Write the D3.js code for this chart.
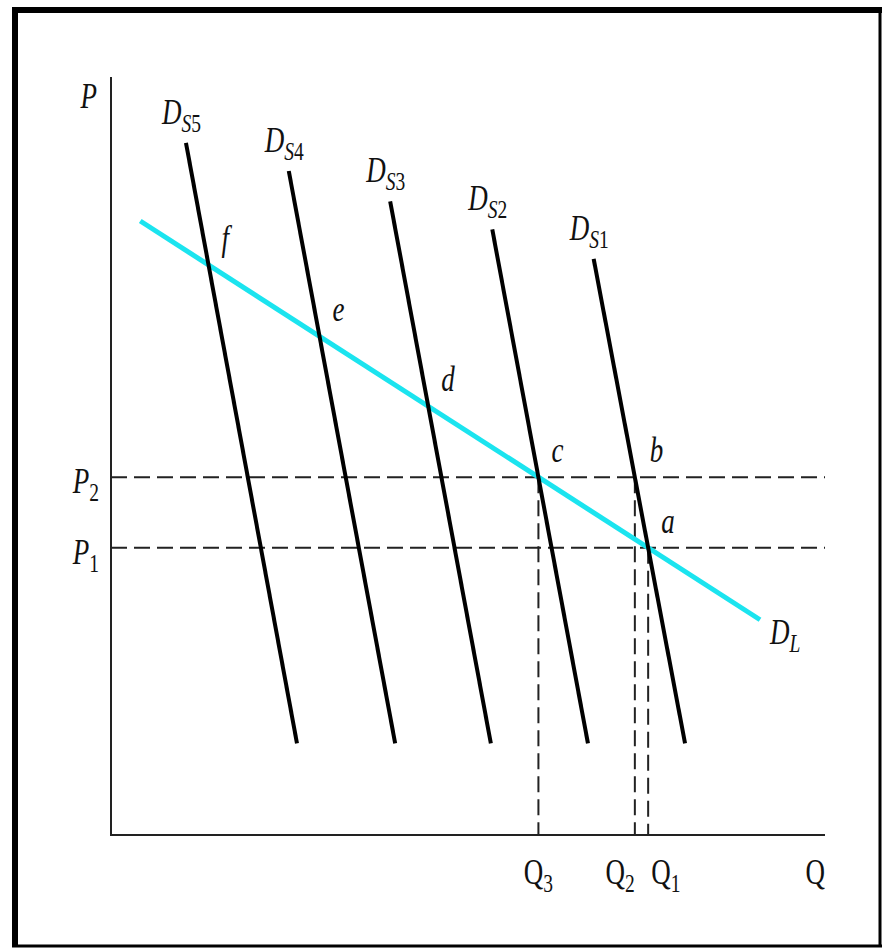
<!DOCTYPE html>
<html>
<head>
<meta charset="utf-8">
<script src="https://cdn.jsdelivr.net/npm/d3@7/dist/d3.min.js"></script>
<style>
  html, body { margin: 0; padding: 0; background: #fff; }
  svg { display: block; }
  text { font-family: "Liberation Serif", "Times New Roman", "DejaVu Serif", serif; fill: #111; }
</style>
</head>
<body>
<svg id="chart" width="888" height="952"></svg>
<script>
// Short-run demand curves: [quantity, price] at top and bottom ends
const shortRunNames = ["S5", "S4", "S3", "S2", "S1"];
const shortRunTop = [[10.5, 91.3], [24.9, 87.6], [39.1, 83.6], [53.4, 79.9], [67.6, 76.0]];
const shortRunBottom = [[26.05, 12.1], [39.8, 12.1], [53.2, 12.1], [66.8, 12.1], [80.4, 12.1]];

// Long-run demand curve endpoints
const longRun = [[4.1, 81.0], [90.9, 28.4]];

// Price levels
const priceNames = ["1", "2"];
const priceValues = [37.9, 47.2];

// Equilibrium point letters on the long-run curve (one per short-run curve)
const pointLetters = ["f", "e", "d", "c", "a"];

const svg = d3.select("#chart");
const x = d3.scaleLinear().domain([0, 100]).range([111, 825]);
const y = d3.scaleLinear().domain([0, 100]).range([835, 77]);

const SX = 0.75; // horizontal squeeze of the typeface

function label(px, py, main, sub, anchor, upright) {
  const t = svg.append("text")
    .attr("transform", `translate(${px},${py}) scale(${SX},1)`)
    .attr("text-anchor", anchor || "start")
    .style("font-size", "36px");
  t.append("tspan").text(main).style("font-style", upright ? "normal" : "italic");
  if (sub) {
    // subscript: letters italic, digits upright
    const m = sub.match(/^([A-Za-z]*)(.*)$/);
    if (m[1]) t.append("tspan").attr("dy", 8).style("font-size", "26px")
      .style("font-style", "italic").text(m[1]);
    if (m[2]) t.append("tspan").attr("dy", m[1] ? 0 : 8).style("font-size", "26px")
      .style("font-style", "normal").text(m[2]);
  }
  return t;
}

// Intersection of two lines, each given by two [q, p] points
function intersect(a, b) {
  const [x1, y1] = a[0], [x2, y2] = a[1], [x3, y3] = b[0], [x4, y4] = b[1];
  const den = (x1 - x2) * (y3 - y4) - (y1 - y2) * (x3 - x4);
  const px = ((x1 * y2 - y1 * x2) * (x3 - x4) - (x1 - x2) * (x3 * y4 - y3 * x4)) / den;
  const py = ((x1 * y2 - y1 * x2) * (y3 - y4) - (y1 - y2) * (x3 * y4 - y3 * x4)) / den;
  return [px, py];
}
function qAtPrice(seg, p) {
  const [q1, p1] = seg[0], [q2, p2] = seg[1];
  return q1 + (p - p1) / (p2 - p1) * (q2 - q1);
}

const shortRun = shortRunTop.map((t, i) => [t, shortRunBottom[i]]);
const P1 = priceValues[0], P2 = priceValues[1];
const Q3 = qAtPrice(shortRun[3], P2);
const Q2 = qAtPrice(shortRun[4], P2);
const Q1 = qAtPrice(shortRun[4], P1);

// Frame
const frame = svg.append("g").attr("stroke", "#000");
frame.append("line").attr("x1", 12).attr("x2", 882).attr("y1", 10).attr("y2", 10).attr("stroke-width", 6);
frame.append("line").attr("x1", 15).attr("x2", 15).attr("y1", 7).attr("y2", 947).attr("stroke-width", 6);
frame.append("line").attr("x1", 880).attr("x2", 880).attr("y1", 7).attr("y2", 947).attr("stroke-width", 3);
frame.append("line").attr("x1", 12).attr("x2", 882).attr("y1", 946).attr("y2", 946).attr("stroke-width", 3);

// Axes
svg.append("line").attr("x1", x(0)).attr("x2", x(0)).attr("y1", y(100)).attr("y2", y(0) + 1)
  .attr("stroke", "#222").attr("stroke-width", 2);
svg.append("line").attr("x1", x(0)).attr("x2", x(100)).attr("y1", y(0)).attr("y2", y(0))
  .attr("stroke", "#222").attr("stroke-width", 2);

// Dashed guide lines
const dash = svg.append("g").attr("stroke", "#222").attr("stroke-width", 2)
  .attr("stroke-dasharray", "16,7").attr("fill", "none");
priceValues.forEach(p => {
  dash.append("line").attr("x1", x(0)).attr("x2", x(100)).attr("y1", y(p)).attr("y2", y(p));
});
[[Q3, P2], [Q2, P2], [Q1, P1]].forEach(([q, p]) => {
  dash.append("line").attr("x1", x(q)).attr("x2", x(q)).attr("y1", y(p)).attr("y2", y(0));
});

const line = d3.line().x(d => x(d[0])).y(d => y(d[1]));

// Long-run demand
svg.append("path").datum(longRun).attr("d", line)
  .attr("stroke", "#1be4ef").attr("stroke-width", 5).attr("fill", "none");

// Short-run demand curves
svg.append("g").selectAll("path").data(shortRun).join("path")
  .attr("d", line).attr("stroke", "#000").attr("stroke-width", 4).attr("fill", "none");

// Short-run labels
shortRun.forEach((s, i) => {
  label(x(s[0][0]) - 24, y(s[0][1]) - 19, "D", shortRunNames[i], "start");
});
label(x(longRun[1][0]) + 10, y(longRun[1][1]) + 24, "D", "L", "start");

// Point letters
shortRun.forEach((s, i) => {
  const pt = intersect(s, longRun);
  label(x(pt[0]) + 13, y(pt[1]) - 15, pointLetters[i], null, "start");
});
label(x(Q2) + 15, y(P2) - 15, "b", null, "start");

// Axis titles and ticks
label(x(0) - 14, y(100) + 31, "P", null, "end");
label(x(100), 884, "Q", null, "end", true);
priceNames.forEach((n, i) => {
  label(x(0) - 12, y(priceValues[i]) + 16, "P", n, "end");
});
label(x(Q3), 884, "Q", "3", "middle", true);
label(x(Q2), 884, "Q", "2", "end", true);
label(x(Q1) + 3, 884, "Q", "1", "start", true);
</script>
</body>
</html>
